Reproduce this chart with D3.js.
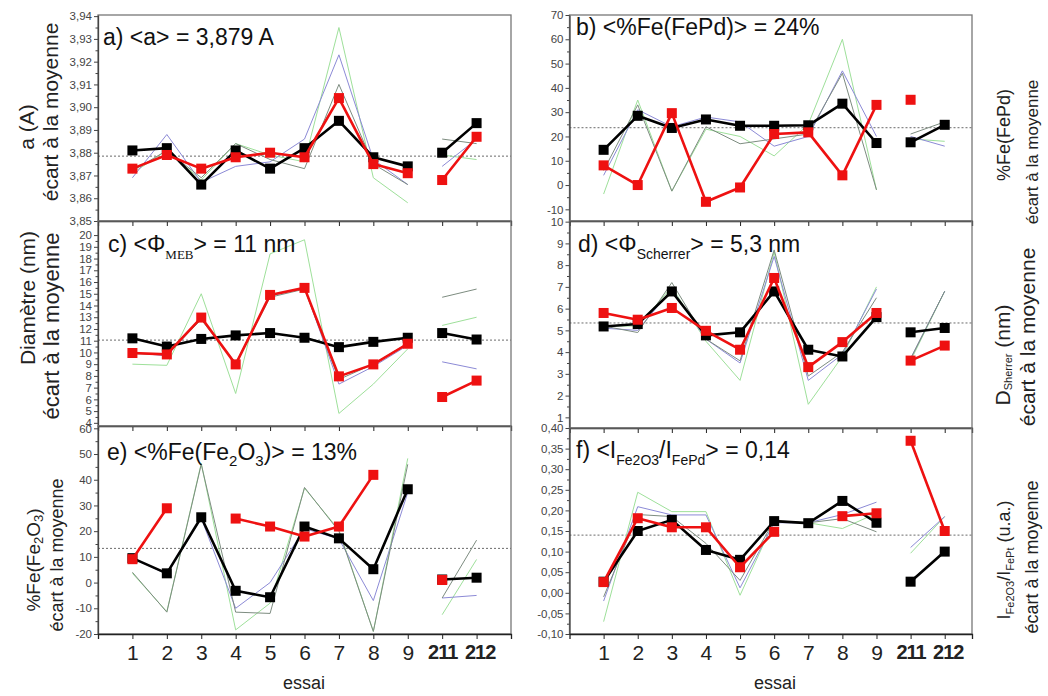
<!DOCTYPE html>
<html>
<head>
<meta charset="utf-8">
<script src="https://cdn.jsdelivr.net/npm/d3@7"></script>
<style>
  html, body { margin: 0; padding: 0; background: #fff; }
  svg { display: block; font-family: "Liberation Sans", Arial, sans-serif; }
</style>
</head>
<body>
<svg id="chart" width="1048" height="696"></svg>
<script>
// ---------------- data ----------------
const categories = ["1", "2", "3", "4", "5", "6", "7", "8", "9", "211", "212"];

// a) lattice parameter
const aBlack = [3.881, 3.882, 3.866, 3.881, 3.873, 3.882, 3.894, 3.878, 3.874, 3.880, 3.893];
const aRed   = [3.873, 3.879, 3.873, 3.878, 3.880, 3.878, 3.904, 3.875, 3.871, 3.868, 3.887];
const aGreen = [3.871, 3.881, 3.868, 3.884, 3.879, 3.876, 3.935, 3.869, 3.858, 3.879, 3.877];
const aBlue  = [3.869, 3.888, 3.867, 3.874, 3.876, 3.886, 3.923, 3.877, 3.866, 3.874, 3.886];
const aGray  = [3.872, 3.881, 3.869, 3.884, 3.877, 3.873, 3.910, 3.875, 3.866, 3.886, 3.884];
const aMean  = 3.8785;
const aTicks = [3.85, 3.86, 3.87, 3.88, 3.89, 3.90, 3.91, 3.92, 3.93, 3.94];

// b) %Fe(FePd)
const bBlack = [14.5, 28.5, 23.5, 27, 24.4, 24.4, 24.6, 33.5, 17.3, 17.6, 24.8];
const bRed   = [8.1, 0, 29.6, -6.9, -1, 21, 21.7, 4, 33, 35.1, null];
const bGreen = [-3.7, 35, -2.5, 23, 20, 12, 25, 60, -2, 19, 18];
const bBlue  = [4, 31, 24, 28, 26, 16, 20, 47, 20, 20, 16];
const bGray  = [6, 33, -2.5, 24, 17, 19, 21, 46, -2, 21, 26];
const bMean  = 23.6;
const bTicks = [-10, 0, 10, 20, 30, 40, 50, 60, 70];

// c) diametre MEB
const cBlack = [11.2, 10.5, 11.15, 11.45, 11.65, 11.25, 10.45, 10.9, 11.25, 11.65, 11.1];
const cRed   = [9.95, 9.83, 12.97, 8.98, 14.9, 15.5, 7.96, 8.98, 10.74, 6.2, 7.6];
const cGreen = [9, 8.9, 15, 6.5, 18.4, 19.6, 4.8, 7.3, 10.3, 12.3, 13.0];
const cBlue  = [10.0, 9.7, 12.9, 9.1, 14.8, 15.5, 7.3, 8.8, 10.6, 9.2, 8.6];
const cGray  = [9.9, 9.8, 12.8, 9.0, 14.7, 15.4, 7.7, 9.0, 10.8, 14.7, 15.4];
const cMean  = 11.05;
const cTicks = [4, 5, 6, 7, 8, 9, 10, 11, 12, 13, 14, 15, 16, 17, 18, 19, 20];

// d) Scherrer
const dBlack = [5.18, 5.29, 6.79, 4.77, 4.91, 6.79, 4.11, 3.80, 5.61, 4.91, 5.11];
const dRed   = [5.80, 5.49, 6.03, 4.98, 4.11, 7.41, 3.31, 4.46, 5.80, 3.61, 4.30];
const dGreen = [5.2, 5.2, 7.0, 4.5, 2.7, 8.6, 1.6, 3.8, 7.0, 3.6, 6.8];
const dBlue  = [5.1, 5.0, 6.9, 4.6, 3.5, 8.4, 2.7, 3.9, 6.9, 3.7, 6.8];
const dGray  = [5.2, 4.9, 7.2, 4.6, 3.6, 8.7, 2.9, 4.0, 6.5, 3.7, 6.8];
const dMean  = 5.34;
const dTicks = [1, 2, 3, 4, 5, 6, 7, 8, 9, 10];

// e) %Fe(Fe2O3)
const eBlack = [9.5, 3.6, 25.4, -3.2, -5.7, 21.8, 17.2, 5.2, 36.3, 1.2, 1.9];
const eRed   = [9.1, 28.9, null, 24.9, 21.8, 17.9, 21.8, 41.9, null, 1.0, null];
const eGreen = [3.6, -11.3, 46.4, -18.4, -8, 36.7, 20.5, -19, 48.3, -12.5, 9];
const eBlue  = [9.5, 3.3, 25, -10, 0, 21, 17, -7, 35, -6, -5];
const eGray  = [4, -11.5, 46, -11.5, -12, 37, 20, -19, 46, -6, 16.5];
const eMean  = 13.3;
const eTicks = [-20, -10, 0, 10, 20, 30, 40, 50, 60];

// f) I(Fe2O3)/I(FePd)
const fBlack = [0.027, 0.150, 0.177, 0.104, 0.080, 0.174, 0.169, 0.223, 0.170, 0.027, 0.100];
const fRed   = [0.026, 0.181, 0.159, 0.159, 0.062, 0.148, null, 0.186, 0.193, 0.369, 0.150];
const fGreen = [-0.070, 0.244, 0.197, 0.197, -0.006, 0.174, 0.170, 0.156, 0.193, 0.096, 0.185];
const fBlue  = [-0.020, 0.209, 0.189, 0.189, 0.012, 0.170, 0.170, 0.190, 0.220, 0.110, 0.185];
const fGray  = [-0.010, 0.190, 0.185, 0.120, 0.030, 0.175, 0.170, 0.180, 0.148, 0.030, 0.100];
const fMean  = 0.14;
const fTicks = [-0.10, -0.05, 0.00, 0.05, 0.10, 0.15, 0.20, 0.25, 0.30, 0.35, 0.40];

// ---------------- drawing ----------------
const svg = d3.select("#chart");
const loc = d3.formatLocale({decimal: ",", thousands: " ", grouping: [3], currency: ["", ""], minus: "-"});

const COLORS = {black: "#000000", red: "#ee1111", green: "#9ee09a", blue: "#8c8ad6", gray: "#7d8c80"};

const LEFT = {xd: [0, 12], xr: [98, 511]};
const RIGHT = {xd: [0, 11.8], xr: [569.5, 972]};

const panels = [
  {col: LEFT,  yd: [3.85, 3.9405], yr: [221, 15],  ticks: aTicks, fmt: loc.format(".2f"),
   s: {black: aBlack, red: aRed, green: aGreen, blue: aBlue, gray: aGray}, mean: aMean, bottom: false},
  {col: RIGHT, yd: [-14.8, 70], yr: [221, 15],     ticks: bTicks, fmt: loc.format("d"),
   s: {black: bBlack, red: bRed, green: bGreen, blue: bBlue, gray: bGray}, mean: bMean, bottom: false},
  {col: LEFT,  yd: [3.73, 21.2], yr: [426, 221],   ticks: cTicks, fmt: loc.format("d"),
   s: {black: cBlack, red: cRed, green: cGreen, blue: cBlue, gray: cGray}, mean: cMean, bottom: false},
  {col: RIGHT, yd: [0.51, 10.03], yr: [428, 221],  ticks: dTicks, fmt: loc.format("d"),
   s: {black: dBlack, red: dRed, green: dGreen, blue: dBlue, gray: dGray}, mean: dMean, bottom: false},
  {col: LEFT,  yd: [-20, 60.9], yr: [634, 426],    ticks: eTicks, fmt: loc.format("d"),
   s: {black: eBlack, red: eRed, green: eGreen, blue: eBlue, gray: eGray}, mean: eMean, bottom: true},
  {col: RIGHT, yd: [-0.10, 0.40], yr: [634, 428],  ticks: fTicks, fmt: loc.format(".2f"),
   s: {black: fBlack, red: fRed, green: fGreen, blue: fBlue, gray: fGray}, mean: fMean, bottom: true}
];

function toPoints(vals) {
  const pts = [];
  vals.forEach((v, i) => {
    if (i === 9) pts.push(null); // break between 9 and 211
    pts.push({i: i + 1, v: v});
  });
  return pts;
}

panels.forEach(p => {
  const x = d3.scaleLinear().domain(p.col.xd).range(p.col.xr);
  const y = d3.scaleLinear().domain(p.yd).range(p.yr);
  const g = svg.append("g");
  const x0 = p.col.xr[0], x1 = p.col.xr[1];
  const yTop = p.yr[1], yBot = p.yr[0];

  // mean line
  g.append("line")
    .attr("x1", x0).attr("x2", x1)
    .attr("y1", y(p.mean)).attr("y2", y(p.mean))
    .attr("stroke", "#6a6a6a").attr("stroke-width", 1)
    .attr("stroke-dasharray", "2,2");

  const line = d3.line()
    .defined(d => d && d.v != null)
    .x(d => x(d.i)).y(d => y(d.v));

  ["green", "blue", "gray"].forEach(k => {
    g.append("path").datum(toPoints(p.s[k]))
      .attr("d", line).attr("fill", "none")
      .attr("stroke", COLORS[k]).attr("stroke-width", 1);
  });
  ["black", "red"].forEach(k => {
    g.append("path").datum(toPoints(p.s[k]))
      .attr("d", line).attr("fill", "none")
      .attr("stroke", COLORS[k]).attr("stroke-width", 2.6)
      .attr("stroke-linejoin", "round");
    g.selectAll(null).data(p.s[k].map((v, i) => ({i: i + 1, v})).filter(d => d.v != null))
      .enter().append("rect")
      .attr("x", d => x(d.i) - 5).attr("y", d => y(d.v) - 5)
      .attr("width", 10).attr("height", 10)
      .attr("fill", COLORS[k]);
  });

  // frame
  g.append("rect")
    .attr("x", x0).attr("y", yTop)
    .attr("width", x1 - x0).attr("height", yBot - yTop)
    .attr("fill", "none").attr("stroke", "#777").attr("stroke-width", 1.3);

  // y axis: minor ticks
  const minor = [];
  for (let k = 0; k < p.ticks.length - 1; k++) minor.push((p.ticks[k] + p.ticks[k + 1]) / 2);
  const ym = g.append("g").attr("transform", `translate(${x0},0)`)
    .call(d3.axisLeft(y).tickValues(minor).tickSize(2.5).tickSizeOuter(0).tickFormat(""));
  ym.select(".domain").remove();
  ym.selectAll("line").attr("stroke", "#444");

  const ya = g.append("g").attr("transform", `translate(${x0},0)`)
    .call(d3.axisLeft(y).tickValues(p.ticks).tickSize(4).tickPadding(2).tickSizeOuter(0).tickFormat(p.fmt));
  ya.select(".domain").attr("stroke", "#444").attr("stroke-width", 1.3);
  ya.selectAll("line").attr("stroke", "#444");
  ya.selectAll("text").attr("font-size", 11.5).attr("fill", "#444")
    .attr("font-family", "Liberation Sans, Arial, sans-serif");

  // x axis (bottom of each panel)
  const xa = g.append("g").attr("transform", `translate(0,${yBot})`)
    .call(d3.axisBottom(x).tickValues(d3.range(1, categories.length + 1))
      .tickSize(5).tickSizeOuter(5).tickPadding(6)
      .tickFormat(p.bottom ? (d => categories[d - 1]) : ""));
  xa.select(".domain").attr("stroke", "#222").attr("stroke-width", 1.3);
  xa.selectAll("line").attr("stroke", "#222");
  if (p.bottom) {
    xa.selectAll("text")
      .attr("font-size", d => categories[d - 1].length > 1 ? 20 : 21)
      .attr("fill", "#222")
      .attr("font-family", "Liberation Sans, Arial, sans-serif")
      .attr("font-weight", d => categories[d - 1].length > 1 ? "bold" : "normal")
      .attr("letter-spacing", d => categories[d - 1].length > 1 ? "-1px" : null)
      .attr("dx", d => categories[d - 1] === "212" ? 3 : 0);
  }
});

// ---------------- titles ----------------
function title(x, y, parts) {
  const t = svg.append("text").attr("x", x).attr("y", y)
    .attr("font-size", 23).attr("fill", "#111");
  parts.forEach(pt => {
    const ts = t.append("tspan").text(pt.t);
    if (pt.sub) ts.attr("font-size", pt.size || 14).attr("dy", pt.dy || 6);
    if (pt.back) ts.attr("dy", pt.back);
    if (pt.font) ts.attr("font-family", pt.font);
  });
  return t;
}

title(103, 45, [{t: "a) <a> = 3,879 A"}]);
title(576, 35, [{t: "b) <%Fe(FePd)> = 24%"}]);
title(108, 252, [{t: "c) <Φ"}, {t: "MEB", sub: true, size: 13, dy: 7, font: "Liberation Serif, serif"}, {t: "> = 11 nm", back: -7}]);
title(578, 252, [{t: "d) <Φ"}, {t: "Scherrer", sub: true, size: 14, dy: 7}, {t: "> = 5,3 nm", back: -7}]);
title(107, 460, [{t: "e) <%Fe(Fe"}, {t: "2", sub: true, size: 15, dy: 6}, {t: "O", back: -6},
                 {t: "3", sub: true, size: 15, dy: 6}, {t: ")> = 13%", back: -6}]);
title(576, 458, [{t: "f) <I"}, {t: "Fe2O3", sub: true, size: 14, dy: 7}, {t: "/I", back: -7},
                 {t: "FePd", sub: true, size: 14, dy: 7}, {t: "> = 0,14", back: -7}]);

// ---------------- axis labels ----------------
function vlabel(x, y, size, parts) {
  const t = svg.append("text")
    .attr("transform", `translate(${x},${y}) rotate(-90)`)
    .attr("text-anchor", "middle").attr("dominant-baseline", "central")
    .attr("font-size", size).attr("fill", "#222");
  parts.forEach(pt => {
    const ts = t.append("tspan").text(pt.t);
    if (pt.sub) ts.attr("font-size", pt.size).attr("dy", pt.dy);
    if (pt.back) ts.attr("dy", pt.back);
  });
}

vlabel(26, 127, 21, [{t: "a (A)"}]);
vlabel(50, 112, 21, [{t: "écart à la moyenne"}]);
vlabel(27, 298, 21, [{t: "Diamètre (nm)"}]);
vlabel(51, 326, 22, [{t: "écart à la moyenne"}]);
vlabel(33, 560, 19, [{t: "%Fe(Fe"}, {t: "2", sub: true, size: 13, dy: 5}, {t: "O", back: -5},
                     {t: "3", sub: true, size: 13, dy: 5}, {t: ")", back: -5}]);
vlabel(57, 555, 18, [{t: "écart à la moyenne"}]);

vlabel(1004, 135, 18, [{t: "%Fe(FePd)"}]);
vlabel(1032, 152, 17, [{t: "écart à la moyenne"}]);
vlabel(1002, 355, 21, [{t: "D"}, {t: "Sherrer", sub: true, size: 11, dy: 6}, {t: " (nm)", back: -6}]);
vlabel(1027, 337, 21, [{t: "écart à la moyenne"}]);
vlabel(1004, 560, 18, [{t: "I"}, {t: "Fe2O3", sub: true, size: 11, dy: 6}, {t: "/I", back: -6},
                       {t: "FePt", sub: true, size: 11, dy: 6}, {t: " (u.a.)", back: -6}]);
vlabel(1032, 557, 18, [{t: "écart à la moyenne"}]);

svg.append("text").attr("x", 304).attr("y", 689).attr("text-anchor", "middle")
  .attr("font-size", 18).attr("fill", "#222").text("essai");
svg.append("text").attr("x", 775).attr("y", 689).attr("text-anchor", "middle")
  .attr("font-size", 18).attr("fill", "#222").text("essai");
</script>
</body>
</html>
